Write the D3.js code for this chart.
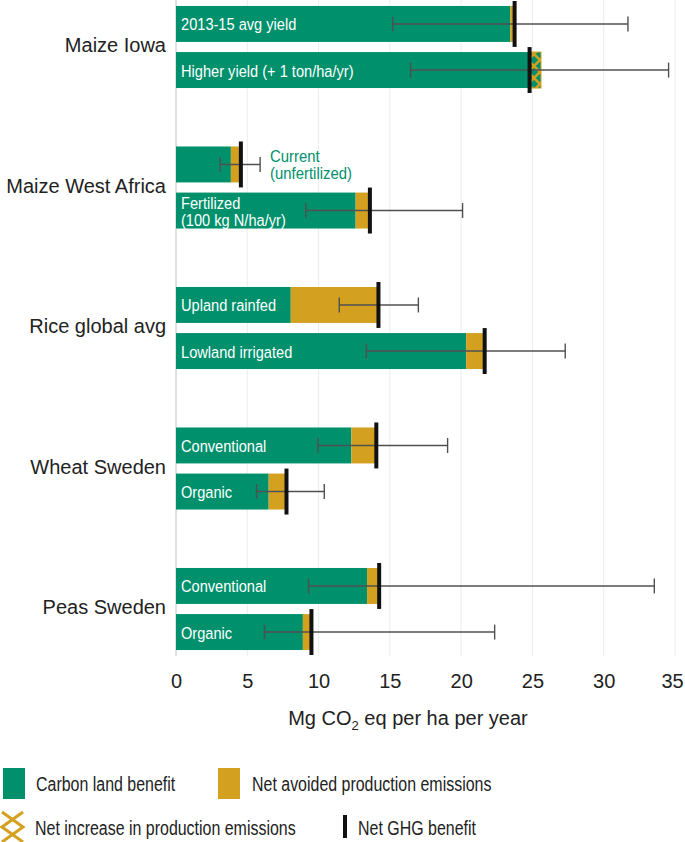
<!DOCTYPE html>
<html>
<head>
<meta charset="utf-8">
<script src="https://cdn.jsdelivr.net/npm/d3@7"></script>
<style>
  body { margin: 0; background: #fff; }
  svg { display: block; font-family: 'Liberation Sans', Arial, sans-serif; }
</style>
</head>
<body>
<svg class="chart"></svg>
<script>
// crop groups, top to bottom
const groups = ['Maize Iowa', 'Maize West Africa', 'Rice global avg', 'Wheat Sweden', 'Peas Sweden']

// one entry per bar
const barGroup = ['Maize Iowa', 'Maize Iowa', 'Maize West Africa', 'Maize West Africa',
  'Rice global avg', 'Rice global avg', 'Wheat Sweden', 'Wheat Sweden', 'Peas Sweden', 'Peas Sweden']
const barSlot = [0, 1, 0, 1, 0, 1, 0, 1, 0, 1]
const barText = [
  ['2013-15 avg yield'],
  ['Higher yield (+ 1 ton/ha/yr)'],
  [],
  ['Fertilized', '(100 kg N/ha/yr)'],
  ['Upland rainfed'],
  ['Lowland irrigated'],
  ['Conventional'],
  ['Organic'],
  ['Conventional'],
  ['Organic']
]
const sideNote = [[], [], ['Current', '(unfertilized)'], [], [], [], [], [], [], []]

// Mg CO2 eq per ha per year
const carbonLand = [23.45, 25.6, 3.85, 12.6, 8.05, 20.35, 12.3, 6.5, 13.4, 8.9]
const productionNet = [0.3, -0.8, 0.7, 1.0, 6.15, 1.3, 1.75, 1.25, 0.85, 0.6]
const netGhg = [23.75, 24.8, 4.55, 13.6, 14.2, 21.65, 14.05, 7.75, 14.25, 9.5]
const errLow = [15.2, 16.45, 3.1, 9.1, 11.45, 13.35, 9.95, 5.65, 9.3, 6.2]
const errHigh = [31.7, 34.55, 5.9, 20.1, 17.0, 27.3, 19.05, 10.4, 33.55, 22.35]

const xTicks = [0, 5, 10, 15, 20, 25, 30, 35]

const legendLabels = ['Carbon land benefit', 'Net avoided production emissions',
  'Net increase in production emissions', 'Net GHG benefit']

const GREEN = '#00906c'
const GOLD = '#d4a020'

const width = 685
const height = 842
const plotBottom = 656

const bars = d3.range(carbonLand.length).map(function (i) {
  return {
    group: barGroup[i],
    slot: barSlot[i],
    text: barText[i],
    note: sideNote[i],
    carbon: carbonLand[i],
    prod: productionNet[i],
    net: netGhg[i],
    lo: errLow[i],
    hi: errHigh[i]
  }
})

const svg = d3.select('.chart')
  .attr('width', width)
  .attr('height', height)

// scales
const x = d3.scaleLinear().domain([0, 35]).range([176, 675])
const yGroup = d3.scaleBand().domain(groups).range([0, plotBottom])
  .paddingInner(0.416).paddingOuter(0.0425).align(0.5)
const ySlot = d3.scaleBand().domain([0, 1]).range([0, yGroup.bandwidth()]).paddingInner(0.22)
const bh = ySlot.bandwidth()

function barTop (d) { return yGroup(d.group) + ySlot(d.slot) }

// narrow text helper (the source uses a condensed face)
function narrowText (sel, tx, ty, str, size, sx, color) {
  return sel.append('text')
    .attr('transform', 'translate(' + tx + ',' + ty + ') scale(' + sx + ',1)')
    .attr('font-size', size)
    .attr('fill', color)
    .attr('dominant-baseline', 'middle')
    .text(str)
}

// hatch pattern for net increase in production emissions
const defs = svg.append('defs')
const hatch = defs.append('pattern')
  .attr('id', 'hatch')
  .attr('patternUnits', 'userSpaceOnUse')
  .attr('width', 12)
  .attr('height', 12)
hatch.append('rect').attr('width', 12).attr('height', 12).attr('fill', GREEN)
hatch.append('path')
  .attr('d', 'M0,0L12,12M12,0L0,12')
  .attr('stroke', GOLD)
  .attr('stroke-width', 2.6)

// gridlines
svg.append('g').attr('class', 'grid')
  .selectAll('line')
  .data(xTicks.slice(1))
  .enter()
  .append('line')
  .attr('x1', function (d) { return x(d) })
  .attr('x2', function (d) { return x(d) })
  .attr('y1', 0)
  .attr('y2', plotBottom)
  .attr('stroke', '#ececec')
  .attr('stroke-width', 1)

svg.append('line')
  .attr('x1', x(0)).attr('x2', x(0))
  .attr('y1', 0).attr('y2', plotBottom)
  .attr('stroke', '#d4d4d4')
  .attr('stroke-width', 1.5)

// carbon land benefit
svg.append('g').selectAll('rect')
  .data(bars)
  .enter()
  .append('rect')
  .attr('x', x(0))
  .attr('y', barTop)
  .attr('width', function (d) { return x(d.carbon) - x(0) })
  .attr('height', bh)
  .attr('fill', GREEN)

// net avoided production emissions
svg.append('g').selectAll('rect')
  .data(bars.filter(function (d) { return d.prod > 0 }))
  .enter()
  .append('rect')
  .attr('x', function (d) { return x(d.carbon) })
  .attr('y', barTop)
  .attr('width', function (d) { return x(d.carbon + d.prod) - x(d.carbon) })
  .attr('height', bh)
  .attr('fill', GOLD)

// net increase in production emissions
svg.append('g').selectAll('rect')
  .data(bars.filter(function (d) { return d.prod < 0 }))
  .enter()
  .append('rect')
  .attr('x', function (d) { return x(d.carbon + d.prod) })
  .attr('y', barTop)
  .attr('width', function (d) { return x(d.carbon) - x(d.carbon + d.prod) })
  .attr('height', bh)
  .attr('fill', 'url(#hatch)')
  .attr('stroke', GOLD)
  .attr('stroke-width', 1)

// labels inside bars
const labelG = svg.append('g')
bars.forEach(function (d) {
  const cy = barTop(d) + bh / 2 + 2
  const n = d.text.length
  d.text.forEach(function (t, j) {
    narrowText(labelG, x(0) + 5, cy + (j - (n - 1) / 2) * 17, t, 17, 0.86, '#fff')
  })
  const m = d.note.length
  d.note.forEach(function (t, j) {
    narrowText(labelG, x(d.hi) + 10, cy + (j - (m - 1) / 2) * 16.5, t, 16, 0.93, GREEN)
  })
})

// error bars
const errG = svg.append('g').attr('stroke', '#505050').attr('stroke-width', 1.4)
bars.forEach(function (d) {
  const cy = barTop(d) + bh / 2
  errG.append('line').attr('x1', x(d.lo)).attr('x2', x(d.hi)).attr('y1', cy).attr('y2', cy)
  errG.append('line').attr('x1', x(d.lo)).attr('x2', x(d.lo)).attr('y1', cy - 7.5).attr('y2', cy + 7.5)
  errG.append('line').attr('x1', x(d.hi)).attr('x2', x(d.hi)).attr('y1', cy - 7.5).attr('y2', cy + 7.5)
})

// net GHG benefit marker
svg.append('g').selectAll('line')
  .data(bars)
  .enter()
  .append('line')
  .attr('x1', function (d) { return x(d.net) })
  .attr('x2', function (d) { return x(d.net) })
  .attr('y1', function (d) { return barTop(d) - 5 })
  .attr('y2', function (d) { return barTop(d) + bh + 5 })
  .attr('stroke', '#111')
  .attr('stroke-width', 4)

// group labels
svg.append('g').selectAll('text')
  .data(groups)
  .enter()
  .append('text')
  .attr('x', 166)
  .attr('y', function (d) { return yGroup(d) + yGroup.bandwidth() / 2 })
  .attr('text-anchor', 'end')
  .attr('dominant-baseline', 'middle')
  .attr('font-size', 20)
  .attr('fill', '#222')
  .text(function (d) { return d })

// x axis
const axis = svg.append('g')
  .attr('transform', 'translate(0,' + plotBottom + ')')
  .call(d3.axisBottom(x).tickValues(xTicks).tickSize(0).tickPadding(18))
axis.select('.domain').remove()
axis.selectAll('text')
  .attr('font-size', 20)
  .attr('font-family', "'Liberation Sans', Arial, sans-serif")
  .attr('fill', '#222')
  .attr('dx', function (d) { return d === 35 ? -3 : 0 })

const title = svg.append('text')
  .attr('x', 408)
  .attr('y', 725)
  .attr('text-anchor', 'middle')
  .attr('font-size', 20)
  .attr('fill', '#222')
title.append('tspan').text('Mg CO')
title.append('tspan').attr('font-size', 13).attr('dy', 5).text('2')
title.append('tspan').attr('dy', -5).text(' eq per ha per year')

// legend
const legend = svg.append('g').attr('class', 'legend')
legend.append('rect').attr('x', 3).attr('y', 768).attr('width', 22).attr('height', 31).attr('fill', GREEN)
narrowText(legend, 36, 785, legendLabels[0], 21, 0.76, '#222')

legend.append('rect').attr('x', 218).attr('y', 768).attr('width', 22).attr('height', 31).attr('fill', GOLD)
narrowText(legend, 252, 785, legendLabels[1], 21, 0.76, '#222')

legend.append('path')
  .attr('d', 'M2,812L23,827L2,842M23,812L2,827L23,842')
  .attr('fill', 'none')
  .attr('stroke', GOLD)
  .attr('stroke-width', 3)
narrowText(legend, 35, 829, legendLabels[2], 21, 0.76, '#222')

legend.append('rect').attr('x', 343).attr('y', 815).attr('width', 4).attr('height', 23).attr('fill', '#111')
narrowText(legend, 358, 829, legendLabels[3], 21, 0.76, '#222')
</script>
</body>
</html>
